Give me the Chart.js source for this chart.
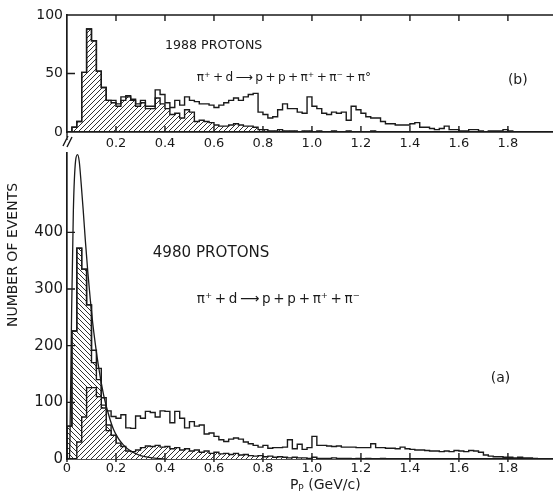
<!DOCTYPE html>
<html>
<head>
<meta charset="utf-8">
<script src="https://cdn.jsdelivr.net/npm/chart.js@4.4.1/dist/chart.umd.min.js"></script>
<style>
  html, body { margin: 0; padding: 0; background: #fff; overflow: hidden; }
  #wrap { position: relative; width: 553px; height: 493px; }
  canvas { position: absolute; left: 0; }
  #chartA { top: 140px; }
  #chartB { top: 0; }
</style>
</head>
<body>
<div id="wrap">
  <canvas id="chartA" width="553" height="353"></canvas>
  <canvas id="chartB" width="553" height="155"></canvas>
</div>
<script>
// largeur d'un bin en P_p (GeV/c)
const binWidth = 0.02;

// ---- panneau (b) : pi+ d -> p p pi+ pi- pi0, 1988 protons
const xTicksB = [0.2, 0.4, 0.6, 0.8, 1.0, 1.2, 1.4, 1.6, 1.8];
const yTicksB = [0, 50, 100];
const allB = [
  0, 4, 9, 51, 88, 78, 52, 38, 27, 27,
  24, 30, 31, 28, 24, 27, 22, 22, 36, 32,
  25, 21, 27, 23, 30, 27, 26, 24, 24, 23,
  21, 23, 25, 27, 29, 27, 30, 32, 33, 17,
  15, 12, 13, 19, 24, 20, 20, 17, 16, 30,
  22, 20, 16, 15, 17, 16, 17, 10, 22, 19,
  16, 13, 12, 12, 9, 7, 7, 6, 6, 6,
  7, 8, 4, 4, 3, 2, 3, 5, 2, 2,
  1, 1, 2, 2, 1, 0, 1, 1, 1, 2,
  1, 0, 0, 0, 0, 0, 0, 0
];
const hatchedB = [
  0, 4, 9, 51, 88, 78, 52, 38, 27, 25,
  22, 27, 30, 27, 22, 25, 20, 20, 29, 24,
  20, 15, 16, 12, 19, 17, 9, 10, 9, 8,
  6, 5, 5, 6, 7, 6, 5, 5, 4, 2,
  2, 1, 1, 2, 1, 1, 1, 0, 1, 1,
  0, 1, 0, 0, 1, 0, 0, 1, 0, 0,
  0, 0, 1, 0, 0, 0, 0, 0, 0, 0,
  0, 0, 0, 0, 0, 0, 0, 0, 0, 0,
  0, 0, 0, 0, 0, 0, 0, 0, 0, 0,
  0, 0, 0, 0, 0, 0, 0, 0
];

// ---- panneau (a) : pi+ d -> p p pi+ pi-, 4980 protons
const xTicksA = [0, 0.2, 0.4, 0.6, 0.8, 1.0, 1.2, 1.4, 1.6, 1.8];
const yTicksA = [0, 100, 200, 300, 400];
const allA = [
  58, 226, 372, 335, 272, 192, 160, 108, 85, 75,
  72, 78, 55, 54, 76, 72, 84, 82, 74, 85,
  84, 64, 84, 72, 55, 66, 58, 60, 44, 46,
  40, 34, 31, 35, 37, 35, 30, 27, 24, 21,
  24, 19, 20, 20, 21, 34, 18, 26, 17, 20,
  40, 24, 24, 23, 22, 23, 21, 21, 21, 20,
  20, 20, 27, 20, 20, 19, 19, 18, 21, 18,
  17, 16, 16, 15, 14, 14, 13, 14, 13, 15,
  14, 13, 15, 14, 12, 7, 5, 4, 4, 3,
  3, 2, 3, 2, 2, 1, 0, 0
];
const slowA = [
  58, 226, 372, 335, 272, 170, 140, 95, 60, 40,
  25, 12, 5, 0, 0, 0, 0, 0, 0, 0
];
const otherA = [
  0, 0, 30, 74, 126, 126, 110, 90, 50, 42,
  28, 22, 14, 13, 16, 20, 23, 22, 24, 21,
  22, 18, 20, 16, 18, 14, 16, 12, 14, 10,
  12, 9, 10, 8, 10, 7, 8, 6, 5, 6,
  4, 5, 3, 4, 3, 2, 3, 2, 2, 1,
  3, 1, 1, 1, 2, 1, 1, 1, 0, 1,
  0, 1, 0, 0, 1, 0, 0, 0, 0, 0
];
// courbe théorique (spectateur)
const curveP = [0.010, 0.012, 0.019, 0.026, 0.035, 0.043, 0.050, 0.058, 0.066, 0.075, 0.085, 0.095,
  0.105, 0.115, 0.130, 0.150, 0.170, 0.190, 0.210, 0.230, 0.260, 0.300, 0.350, 0.400];
const curveN = [0, 33, 265, 439, 526, 537, 525, 485, 440, 385, 330, 282,
  240, 205, 160, 112, 78, 52, 36, 25, 14, 6, 2, 0];

const ink = '#1a1a1a';
const fam = '"DejaVu Sans", sans-serif';
const thin = '\u2009';

// motif hachuré
function hatch(dir, bg) {
  const s = 5;
  const c = document.createElement('canvas');
  c.width = s; c.height = s;
  const g = c.getContext('2d');
  if (bg) { g.fillStyle = bg; g.fillRect(0, 0, s, s); }
  g.strokeStyle = ink;
  g.lineWidth = 0.9;
  g.beginPath();
  if (dir === '/') {
    g.moveTo(0, s); g.lineTo(s, 0);
    g.moveTo(-1, 1); g.lineTo(1, -1);
    g.moveTo(s - 1, s + 1); g.lineTo(s + 1, s - 1);
  } else {
    g.moveTo(0, 0); g.lineTo(s, s);
    g.moveTo(-1, s - 1); g.lineTo(1, s + 1);
    g.moveTo(s - 1, -1); g.lineTo(s + 1, 1);
  }
  g.stroke();
  return g.createPattern(c, 'repeat');
}

// histogramme en escalier
function steps(vals) {
  const pts = [{ x: 0, y: 0 }];
  vals.forEach((v, i) => pts.push({ x: i * binWidth, y: v }));
  pts.push({ x: vals.length * binWidth, y: 0 });
  return pts;
}

function histo(vals, fill, order) {
  return {
    data: steps(vals),
    stepped: true,
    borderColor: ink,
    borderWidth: 1.4,
    pointRadius: 0,
    fill: fill ? 'origin' : false,
    backgroundColor: fill || 'transparent',
    order: order
  };
}

// cadre, graduations intérieures, textes
const frame = {
  id: 'frame',
  afterDraw(chart, args, opts) {
    const { ctx, chartArea: a, scales: { x, y } } = chart;
    ctx.save();
    ctx.strokeStyle = ink;
    ctx.lineWidth = 1.4;
    ctx.beginPath();
    x.ticks.forEach(t => {
      const px = x.getPixelForValue(t.value);
      ctx.moveTo(px, a.bottom - 6);
      ctx.lineTo(px, a.bottom + (opts.cross ? 3 : 0));
      if (opts.top) { ctx.moveTo(px, a.top); ctx.lineTo(px, a.top + 6); }
    });
    y.ticks.forEach(t => {
      if (t.value === 0) return;
      const py = y.getPixelForValue(t.value);
      ctx.moveTo(a.left, py);
      ctx.lineTo(a.left + 8, py);
    });
    if (opts.top) { ctx.moveTo(a.left, a.top); ctx.lineTo(chart.width, a.top); }
    if (opts.brk) {
      ctx.moveTo(a.left, a.bottom); ctx.lineTo(a.left, a.bottom + 8);
      ctx.moveTo(a.left - 4, a.bottom + 14); ctx.lineTo(a.left + 1, a.bottom + 4);
      ctx.moveTo(a.left + 0, a.bottom + 15); ctx.lineTo(a.left + 5, a.bottom + 5);
    }
    ctx.stroke();

    ctx.fillStyle = ink;
    ctx.textBaseline = 'middle';
    ctx.textAlign = 'left';
    (opts.texts || []).forEach(t => {
      ctx.font = t.size + 'px ' + fam;
      let size = t.size;
      if (t.w) size = t.size * t.w / ctx.measureText(t.s).width;
      ctx.font = size.toFixed(1) + 'px ' + fam;
      ctx.fillText(t.s, x.getPixelForValue(t.x), y.getPixelForValue(t.y));
    });

    if (opts.titles) {
      // P_p (GeV/c)
      let px = x.getPixelForValue(0.91);
      const py = a.bottom + 26;
      ctx.font = '14px ' + fam;
      ctx.fillText('P', px, py);
      px += ctx.measureText('P').width;
      ctx.font = '9px ' + fam;
      ctx.fillText('P', px, py + 4);
      px += ctx.measureText('P').width;
      ctx.font = '14px ' + fam;
      ctx.fillText(' (GeV/c)', px, py);
      // NUMBER OF EVENTS
      ctx.translate(13, 115);
      ctx.rotate(-Math.PI / 2);
      ctx.textAlign = 'center';
      ctx.font = '14px ' + fam;
      ctx.fillText('NUMBER OF EVENTS', 0, 0);
    }
    ctx.restore();
  }
};

function axes(xMax, yMax, xTicks, yTicks, xPad, xH, ySize) {
  return {
    x: {
      type: 'linear', min: 0, max: xMax,
      grid: { display: false, drawTicks: false },
      border: { display: true, color: ink, width: 1.7 },
      ticks: { color: ink, font: { family: fam, size: 13 }, padding: xPad, maxRotation: 0, autoSkip: false,
        callback: v => (v === 0 ? '0' : v.toFixed(1)) },
      afterBuildTicks: s => { s.ticks = xTicks.map(v => ({ value: v })); },
      afterFit: s => { s.height = xH; }
    },
    y: {
      type: 'linear', min: 0, max: yMax,
      grid: { display: false, drawTicks: false },
      border: { display: true, color: ink, width: 1.7 },
      ticks: { color: ink, font: { family: fam, size: ySize }, padding: 4, callback: v => String(v) },
      afterBuildTicks: s => { s.ticks = yTicks.map(v => ({ value: v })); },
      afterFit: s => { s.width = 67; }
    }
  };
}

// panneau (b)
new Chart(document.getElementById('chartB'), {
  type: 'line',
  data: {
    datasets: [
      histo(hatchedB, hatch('/'), 1),
      histo(allB, null, 2)
    ]
  },
  options: {
    responsive: false,
    animation: false,
    layout: { padding: { left: 0, right: 1, top: 15, bottom: 0 } },
    scales: axes(1.98, 100, xTicksB, yTicksB, 4, 23, 14),
    plugins: {
      legend: { display: false },
      tooltip: { enabled: false },
      frame: {
        top: true, brk: true,
        texts: [
          { s: '1988 PROTONS', x: 0.40, y: 74, size: 13, w: 97 },
          { s: ['π⁺', '+', 'd', '⟶', 'p', '+', 'p', '+', 'π⁺', '+', 'π⁻', '+', 'π°'].join(thin), x: 0.53, y: 46, size: 13, w: 175 },
          { s: '(b)', x: 1.80, y: 44, size: 14 }
        ]
      }
    }
  },
  plugins: [frame]
});

// panneau (a)
new Chart(document.getElementById('chartA'), {
  type: 'line',
  data: {
    datasets: [
      {
        data: curveP.map((p, i) => ({ x: p, y: curveN[i] })),
        borderColor: ink,
        borderWidth: 1.3,
        pointRadius: 0,
        fill: false,
        cubicInterpolationMode: 'monotone',
        order: 0
      },
      histo(otherA, hatch('/', '#ffffff'), 1),
      histo(slowA, hatch('\\'), 2),
      histo(allA, null, 3)
    ]
  },
  options: {
    responsive: false,
    animation: false,
    layout: { padding: { left: 0, right: 1, top: 8.5, bottom: 0 } },
    scales: axes(1.98, 540, xTicksA, yTicksA, 2, 34, 15),
    plugins: {
      legend: { display: false },
      tooltip: { enabled: false },
      frame: {
        cross: true, titles: true,
        texts: [
          { s: '4980 PROTONS', x: 0.35, y: 363, size: 15, w: 117 },
          { s: ['π⁺', '+', 'd', '⟶', 'p', '+', 'p', '+', 'π⁺', '+', 'π⁻'].join(thin), x: 0.53, y: 281, size: 14, w: 163 },
          { s: '(a)', x: 1.73, y: 142, size: 14 }
        ]
      }
    }
  },
  plugins: [frame]
});
</script>
</body>
</html>
